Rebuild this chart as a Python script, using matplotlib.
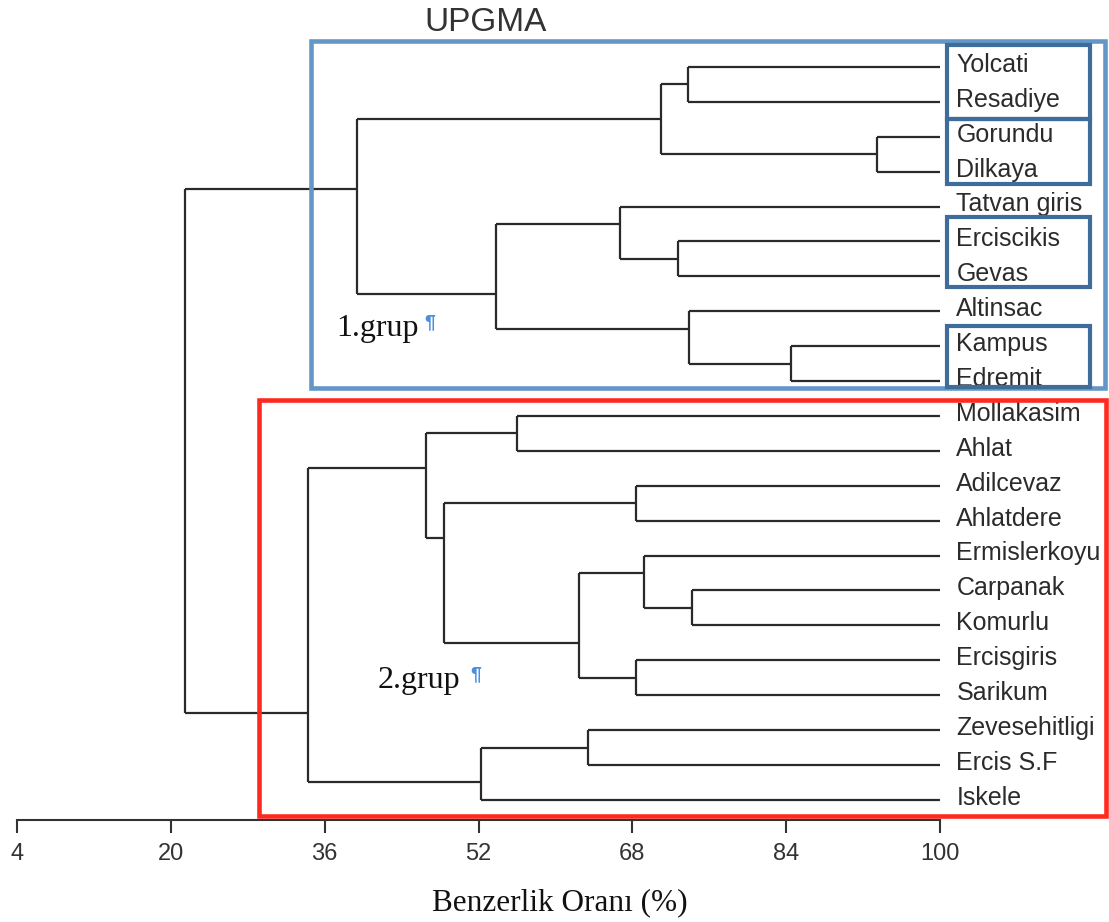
import numpy as np
import matplotlib
matplotlib.use("Agg")
import matplotlib.pyplot as plt
from matplotlib.patches import Rectangle

# =========================
# data
# =========================
leaves = [
    "Yolcati", "Resadiye", "Gorundu", "Dilkaya", "Tatvan giris",
    "Erciscikis", "Gevas", "Altinsac", "Kampus", "Edremit",
    "Mollakasim", "Ahlat", "Adilcevaz", "Ahlatdere", "Ermislerkoyu",
    "Carpanak", "Komurlu", "Ercisgiris", "Sarikum", "Zevesehitligi",
    "Ercis S.F", "Iskele",
]

# (new cluster, left child, right child, similarity %)
links = [
    ("YR", "Yolcati", "Resadiye", 73.8),
    ("GD", "Gorundu", "Dilkaya", 93.4),
    ("YRGD", "YR", "GD", 71.0),
    ("EG", "Erciscikis", "Gevas", 72.7),
    ("TEG", "Tatvan giris", "EG", 66.7),
    ("KE", "Kampus", "Edremit", 84.5),
    ("AKE", "Altinsac", "KE", 73.9),
    ("TA", "TEG", "AKE", 53.8),
    ("G1", "YRGD", "TA", 39.4),
    ("MA", "Mollakasim", "Ahlat", 56.0),
    ("AA", "Adilcevaz", "Ahlatdere", 68.4),
    ("CK", "Carpanak", "Komurlu", 74.2),
    ("ECK", "Ermislerkoyu", "CK", 69.2),
    ("ES", "Ercisgiris", "Sarikum", 68.4),
    ("ECKES", "ECK", "ES", 62.4),
    ("AAE", "AA", "ECKES", 48.4),
    ("MAE", "MA", "AAE", 46.5),
    ("ZE", "Zevesehitligi", "Ercis S.F", 63.4),
    ("ZEI", "ZE", "Iskele", 52.3),
    ("G2", "MAE", "ZEI", 34.3),
    ("ROOT", "G1", "G2", 21.5),
]

x_ticks = [4, 20, 36, 52, 68, 84, 100]

# =========================
# layout of the tree
# =========================
node_y = {name: float(i) for i, name in enumerate(leaves)}
node_h = {name: 100.0 for name in leaves}
span = {name: (i, i) for i, name in enumerate(leaves)}
for name, a, b, h in links:
    # node sits on the boundary between its two children
    node_y[name] = (span[a][1] + span[b][0]) / 2.0
    node_h[name] = h
    span[name] = (span[a][0], span[b][1])

# =========================
# plot
# =========================
fig = plt.figure(figsize=(11.09, 9.22), dpi=100)
ax = fig.add_axes([0, 0, 1, 1])
ax.set_xlim(2.232, 117.57)
ax.set_ylim(24.5, -1.92)

line_kw = dict(color="#2a2a2a", lw=1.6, solid_capstyle="butt")
for name, a, b, h in links:
    ax.plot([h, h], [node_y[a], node_y[b]], **line_kw)
    for c in (a, b):
        ax.plot([h, node_h[c]], [node_y[c], node_y[c]], **line_kw)

for i, name in enumerate(leaves):
    ax.text(101.7, i + 0.14, name, fontsize=18, family="Liberation Sans",
            color="#2b2b2b", va="baseline", ha="left")

# group boxes
ax.add_patch(Rectangle((34.6, -0.745), 117.16 - 34.6, 9.2 + 0.745,
                       fill=False, ec="#6596C8", lw=3.3, zorder=3))
for y0, y1 in [(-0.63, 1.49), (1.49, 3.35), (4.29, 6.30), (7.42, 9.16)]:
    ax.add_patch(Rectangle((100.7, y0), 115.6 - 100.7, y1 - y0,
                           fill=False, ec="#3E6D9C", lw=3.0, zorder=3))
ax.add_patch(Rectangle((29.17, 9.54), 117.26 - 29.17, 21.46 - 9.54,
                       fill=False, ec="#FF2A1F", lw=3.3, zorder=3))

# axis
for s in ["top", "right", "left"]:
    ax.spines[s].set_visible(False)
ax.spines["bottom"].set_position(("data", 21.57))
ax.spines["bottom"].set_bounds(4, 100)
ax.spines["bottom"].set_color("#333333")
ax.spines["bottom"].set_linewidth(1.5)
ax.set_xticks(x_ticks)
ax.set_xticklabels([str(t) for t in x_ticks])
ax.tick_params(axis="x", direction="out", length=9.5, width=1.5, color="#333333",
               pad=7, labelsize=17, labelcolor="#333333")
for lab in ax.get_xticklabels():
    lab.set_family("Liberation Sans")
ax.set_yticks([])

# texts
ax.text(52.7, -1.02, "UPGMA", fontsize=24, family="Liberation Sans",
        color="#333333", ha="center", va="baseline")
ax.text(37.2, 7.72, "1.grup", fontsize=23, family="Liberation Serif",
        color="#111111", ha="left", va="baseline")
ax.text(46.4, 7.45, "¶", fontsize=14, family="Liberation Sans", weight="bold",
        color="#4A8FE0", ha="left", va="baseline")
ax.text(41.5, 17.8, "2.grup", fontsize=23, family="Liberation Serif",
        color="#111111", ha="left", va="baseline")
ax.text(51.1, 17.53, "¶", fontsize=14, family="Liberation Sans", weight="bold",
        color="#4A8FE0", ha="left", va="baseline")
ax.text(60.5, 24.15, "Benzerlik Oranı (%)", fontsize=22.5, family="Liberation Serif",
        color="#111111", ha="center", va="baseline")

fig.savefig("out.png", dpi=100)
